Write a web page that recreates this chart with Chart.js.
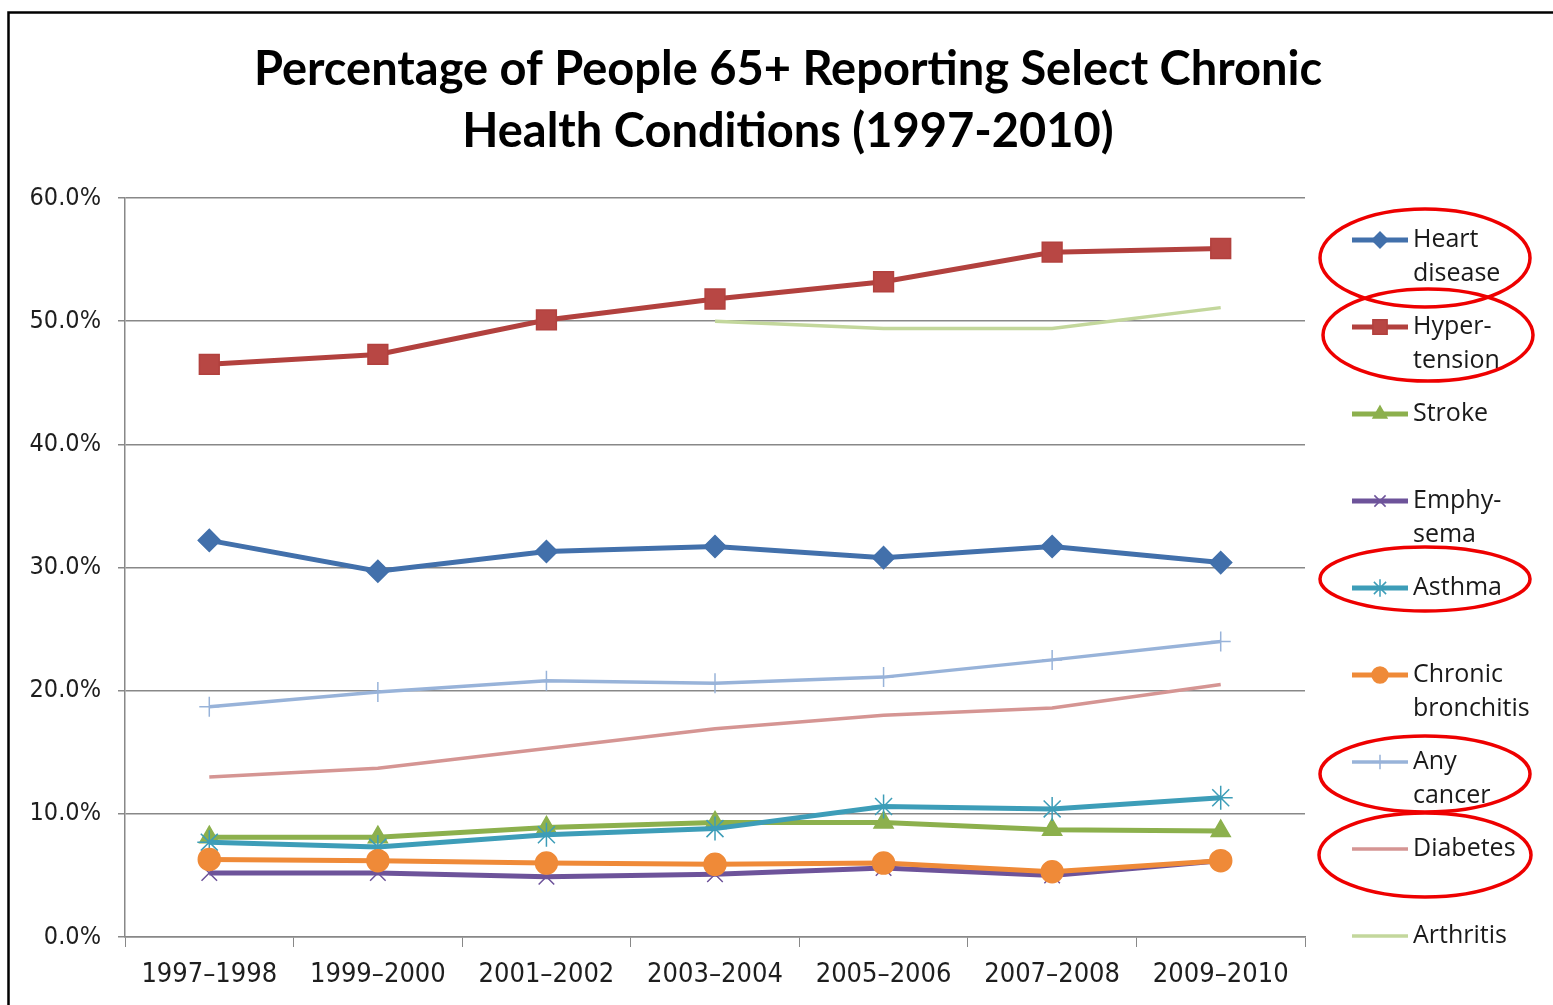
<!DOCTYPE html>
<html>
<head>
<meta charset="utf-8">
<script src="https://cdn.jsdelivr.net/npm/chart.js@4/dist/chart.umd.min.js"></script>
<style>
  body { margin: 0; background: #fff; }
  #contenedor { width: 1553px; height: 1005px; }
</style>
</head>
<body>
<div id="contenedor"><canvas id="myChart"></canvas></div>
<script>
let periodos = ['1997–1998', '1999–2000', '2001–2002', '2003–2004', '2005–2006', '2007–2008', '2009–2010'];
let tituloLineas = ['Percentage of People 65+ Reporting Select Chronic', 'Health Conditions (1997-2010)'];

let corazon    = [32.2, 29.7, 31.3, 31.7, 30.8, 31.7, 30.4];
let hipertension = [46.5, 47.3, 50.1, 51.8, 53.2, 55.6, 55.9];
let derrame    = [8.1, 8.1, 8.9, 9.3, 9.3, 8.7, 8.6];
let enfisema   = [5.2, 5.2, 4.9, 5.1, 5.6, 5.0, 6.2];
let asma       = [7.7, 7.3, 8.3, 8.8, 10.6, 10.4, 11.3];
let bronquitis = [6.3, 6.2, 6.0, 5.9, 6.0, 5.3, 6.2];
let cancer     = [18.7, 19.9, 20.8, 20.6, 21.1, 22.5, 24.0];
let diabetes   = [13.0, 13.7, 15.3, 16.9, 18.0, 18.6, 20.5];
let artritis   = [null, null, null, 50.0, 49.4, 49.4, 51.1];

let ejeY = [0, 10, 20, 30, 40, 50, 60];

// legend entries that have a red ring round them
let marcados = ['Heart disease', 'Hyper-tension', 'Asthma', 'Any cancer', 'Diabetes'];

function serie(nombre, datos, color, punto, radio, relleno, grosor) {
  return {
    label: nombre,
    data: datos,
    borderColor: color,
    backgroundColor: relleno || color,
    borderWidth: grosor || 5,
    pointStyle: punto,
    pointRadius: punto ? radio : 0,
    pointBorderColor: color,
    pointBackgroundColor: relleno || color,
    pointBorderWidth: 1.5,
    tension: 0,
    fill: false
  };
}

let conjuntos = [
  serie('Heart\ndisease', corazon, '#4270ab', 'rectRot', 11),
  serie('Hyper-\ntension', hipertension, '#b2413e', 'rect', 14, '#b84744'),
  serie('Stroke', derrame, '#8cb04d', 'triangle', 11),
  serie('Emphy-\nsema', enfisema, '#6d539a', 'crossRot', 11),
  serie('Asthma', asma, '#3d9db8', 'star', 12),
  serie('Chronic\nbronchitis', bronquitis, '#ef8a38', 'circle', 11),
  serie('Any\ncancer', cancer, '#98b3d9', 'cross', 10, null, 3.5),
  serie('Diabetes', diabetes, '#d59593', false, 0, null, 3.5),
  serie('Arthritis', artritis, '#c3d79c', false, 0, null, 3.5)
];
// later series are painted on top, like the original
conjuntos.forEach(function (c, i) { c.order = conjuntos.length - i; });

let marcoYTitulo = {
  id: 'marcoYTitulo',
  beforeDraw: function (chart) {
    let ctx = chart.ctx;
    ctx.save();
    ctx.fillStyle = '#fff';
    ctx.fillRect(0, 0, chart.width, chart.height);
    ctx.strokeStyle = '#000';
    ctx.lineWidth = 2.5;
    ctx.beginPath();
    ctx.moveTo(8.5, chart.height);
    ctx.lineTo(8.5, 12.5);
    ctx.lineTo(chart.width, 12.5);
    ctx.stroke();

    ctx.fillStyle = '#000';
    ctx.font = 'bold 47px Lato';
    ctx.textAlign = 'center';
    ctx.textBaseline = 'middle';
    ctx.fillText(tituloLineas[0], 788, 70);
    ctx.fillText(tituloLineas[1], 788, 132);
    ctx.restore();
  }
};

let leyenda = {
  id: 'leyenda',
  afterDraw: function (chart) {
    let ctx = chart.ctx;
    ctx.save();
    chart.data.datasets.forEach(function (ds, i) {
      let y = 240 + 87 * i;
      ctx.strokeStyle = ds.borderColor;
      ctx.lineWidth = ds.borderWidth;
      ctx.beginPath();
      ctx.moveTo(1352, y);
      ctx.lineTo(1408, y);
      ctx.stroke();
      if (ds.pointStyle) {
        ctx.fillStyle = ds.pointBackgroundColor;
        ctx.strokeStyle = ds.pointBorderColor;
        ctx.lineWidth = 1.5;
        Chart.helpers.drawPoint(ctx, {
          pointStyle: ds.pointStyle,
          radius: ds.pointRadius * 0.72,
          rotation: 0,
          borderWidth: 1.5
        }, 1380, y);
      }
      ctx.fillStyle = '#1a1a1a';
      ctx.font = '25px "Open Sans"';
      ctx.textAlign = 'left';
      ctx.textBaseline = 'middle';
      ds.label.split('\n').forEach(function (linea, k) {
        ctx.fillText(linea, 1413, y + k * 34);
      });
    });

    // red rings
    let anillos = {
      'Heart disease': [1425, 258, 105, 49],
      'Hyper-tension': [1428, 335, 105, 46],
      'Asthma': [1425, 579, 105, 32],
      'Any cancer': [1425, 774, 105, 38],
      'Diabetes': [1425, 855, 106, 42]
    };
    ctx.strokeStyle = '#ee0000';
    ctx.lineWidth = 3.5;
    marcados.forEach(function (m) {
      let a = anillos[m];
      ctx.beginPath();
      ctx.ellipse(a[0], a[1], a[2], a[3], 0, 0, Math.PI * 2);
      ctx.stroke();
    });
    ctx.restore();
  }
};

let ctx = document.getElementById('myChart').getContext('2d');
let chart = new Chart(ctx, {
  type: 'line',
  data: {
    labels: periodos,
    datasets: conjuntos
  },
  plugins: [marcoYTitulo, leyenda],
  options: {
    responsive: true,
    maintainAspectRatio: false,
    animation: false,
    layout: {
      padding: { left: 20, right: 248, top: 198, bottom: 0 }
    },
    plugins: {
      legend: { display: false },
      title: { display: false },
      tooltip: { enabled: false }
    },
    scales: {
      x: {
        offset: true,
        grid: {
          offset: true,
          drawOnChartArea: false,
          drawTicks: true,
          tickLength: 10,
          color: '#888'
        },
        border: { color: '#888', width: 1.5 },
        ticks: {
          color: '#1e1e1e',
          padding: 12,
          maxRotation: 0,
          font: { family: '"DejaVu Sans Condensed", "DejaVu Sans"', size: 27 }
        },
        afterFit: function (scale) { scale.height = 68; }
      },
      y: {
        min: ejeY[0],
        max: ejeY[ejeY.length - 1],
        afterBuildTicks: function (scale) {
          scale.ticks = ejeY.map(function (v) { return { value: v }; });
        },
        grid: { color: '#888', lineWidth: 1.5, tickLength: 7 },
        border: { color: '#888', width: 1.5 },
        ticks: {
          color: '#1e1e1e',
          padding: 17,
          font: { family: '"DejaVu Sans Condensed", "DejaVu Sans"', size: 25 },
          callback: function (v) { return v.toFixed(1) + '%'; }
        },
        afterFit: function (scale) { scale.width = 105; }
      }
    }
  }
});
</script>
</body>
</html>
